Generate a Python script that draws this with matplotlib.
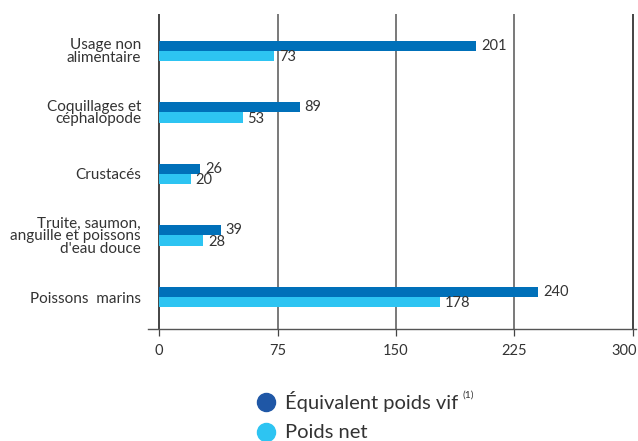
import matplotlib
matplotlib.use("Agg")
import matplotlib.pyplot as plt
import numpy as np

categories = ["Usage non\nalimentaire", "Coquillages et\ncéphalopode", "Crustacés",
              "Truite, saumon,\nanguille et poissons\nd'eau douce", "Poissons  marins"]
poids_vif = [201, 89, 26, 39, 240]
poids_net = [73, 53, 20, 28, 178]
xticks = [0, 75, 150, 225, 300]
series_names = ["Équivalent poids vif", "Poids net"]
footnote = "(1)"

plt.rcParams['font.family'] = ['Lato', 'DejaVu Sans']
TXT = '#333333'
C_DARK = '#0070b9'
C_LIGHT = '#2dc4f2'

fig = plt.figure(figsize=(6.38, 4.41), dpi=100)
ax = fig.add_axes([148/638, (441-329)/441, (636-148)/638, (329-14)/441])

n = len(categories)
y = np.arange(n)[::-1]  # first category at top
h = 0.165
ax.barh(y + h/2, poids_vif, height=h, color=C_DARK)
ax.barh(y - h/2, poids_net, height=h, color=C_LIGHT)

for yi, v in zip(y, poids_vif):
    ax.annotate(str(v), (v, yi + h/2), xytext=(3.5, 0), textcoords='offset points',
                va='center', ha='left', fontsize=10.5, color=TXT)
for yi, v in zip(y, poids_net):
    ax.annotate(str(v), (v, yi - h/2), xytext=(3.5, -1), textcoords='offset points',
                va='center', ha='left', fontsize=10.5, color=TXT)

ax.set_xlim(-7, 302)
ax.set_ylim(-0.52, 4.6)
ax.set_xticks(xticks)
labels = [str(t) for t in xticks]
ax.set_xticklabels(labels[:-1] + [''], fontsize=10.5, color=TXT)
# last tick label shifted left so it stays inside the figure
ax.annotate(labels[-1], xy=(xticks[-1], 0), xycoords=('data', 'axes fraction'),
            xytext=(-6, -11), textcoords='offset points', ha='center', va='top',
            fontsize=10.5, color=TXT, annotation_clip=False)
for t in xticks:
    ax.axvline(t, color='#111111' if t in (0, 300) else '#555555', lw=1.1, zorder=0)
ax.set_yticks(y)
ax.set_yticklabels(categories, fontsize=11, color=TXT, multialignment='right', linespacing=0.85)
ax.tick_params(axis='y', length=0, pad=5)
ax.tick_params(axis='x', length=5, width=0.9, color='#444444', pad=6)
for s in ['top', 'right', 'left']:
    ax.spines[s].set_visible(False)
ax.spines['bottom'].set_color('#555555')
ax.spines['bottom'].set_linewidth(1.0)

# Legend
leg_colors = ['#1f57a6', '#2dc4f2']
leg_y = [1 - 402/441, 1 - 432/441]
for c, ly in zip(leg_colors, leg_y):
    fig.add_artist(plt.Line2D([266/638], [ly], marker='o', markersize=13, color=c,
                              linestyle='none', transform=fig.transFigure))
t1 = fig.text(285/638, leg_y[0], series_names[0], fontsize=14.5, color=TXT, va='center', ha='left')
fig.text(285/638, leg_y[1], series_names[1], fontsize=14.5, color=TXT, va='center', ha='left')
fig.canvas.draw()
bb = t1.get_window_extent()
fig.text((bb.x1 + 4)/638, leg_y[0] + 7/441, footnote, fontsize=7.5, color=TXT, va='center', ha='left')

fig.savefig("out.png", dpi=100)
